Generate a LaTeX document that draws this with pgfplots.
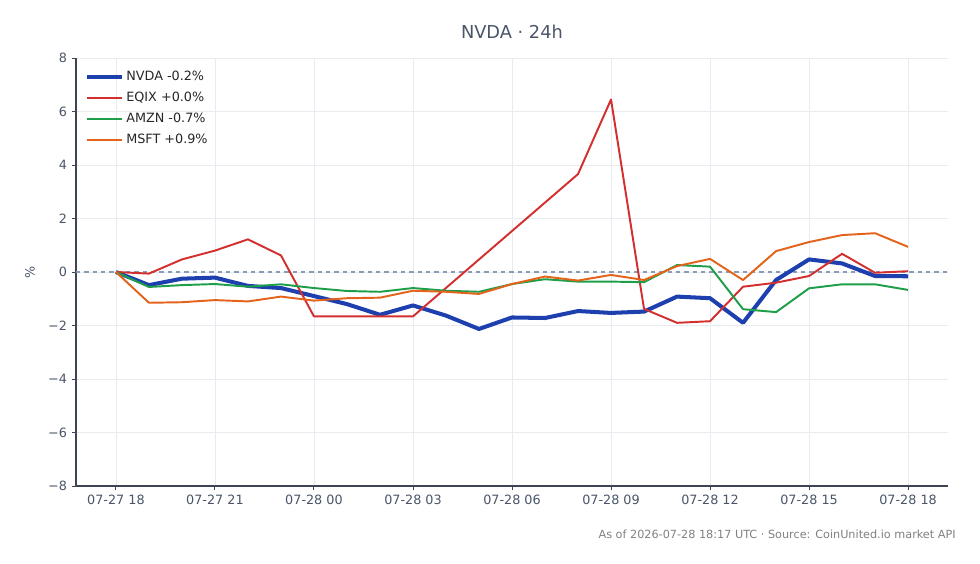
\documentclass[border=0pt]{standalone}
\usepackage{pgfplots}
\pgfplotsset{compat=1.18}
\usepackage{fontspec}
\setmainfont{DejaVu Sans}
\definecolor{cNVDA}{HTML}{1E40AF}
\definecolor{cEQIX}{HTML}{D32F2F}
\definecolor{cAMZN}{HTML}{1F9E4A}
\definecolor{cMSFT}{HTML}{E4631B}
\definecolor{txt}{HTML}{4A5568}
\definecolor{spine}{HTML}{3D4452}
\definecolor{gridc}{HTML}{E8EBF0}
\definecolor{zeroc}{HTML}{8C9BB5}
\begin{document}
\begin{tikzpicture}[x=1pt,y=1pt]
\path (0,0) rectangle (705.6,406.08);
\begin{axis}[
  at={(54.72pt,56.16pt)}, anchor=south west,
  width=627.84pt, height=308.16pt, scale only axis=true,
  xmin=-1.21, xmax=25.21, ymin=-8, ymax=8,
  axis x line*=bottom, axis y line*=left,
  axis line style={spine, line width=0.8pt},
  xtick={0,3,...,24},
  xticklabels={07-27 18,07-27 21,07-28 00,07-28 03,07-28 06,07-28 09,07-28 12,07-28 15,07-28 18},
  ytick={-8,-6,...,8},
  yticklabels={−8,−6,−4,−2,0,2,4,6,8},
  tick align=outside, major tick length=3pt,
  tick style={spine, line width=0.7pt},
  ticklabel style={font=\fontsize{9.2}{11}\selectfont, text=txt},
  /pgf/number format/assume math mode=true,
  grid=major, major grid style={gridc, line width=0.5pt},
  legend style={draw=none, fill=none, at={(0.005,0.983)}, anchor=north west,
    font=\fontsize{9.2}{11}\selectfont, text=black!85, row sep=2.8pt},
  legend cell align=left,
  legend image code/.code={\draw[#1] (0pt,0pt) -- (23pt,0pt); \path (0pt,0pt) -- (25pt,0pt);},
  clip=true,
]
\addplot[zeroc, dashed, line width=0.8pt, forget plot] coordinates {(-1.21,0) (25.21,0)};
\addplot[cNVDA, line width=2.9pt, line join=round] coordinates {
(0,0) (1,-0.49) (2,-0.25) (3,-0.21) (4,-0.52) (5,-0.6) (6,-0.9) (7,-1.2) (8,-1.6)
(9,-1.25) (10,-1.63) (11,-2.13) (12,-1.7) (13,-1.72) (14,-1.46) (15,-1.53) (16,-1.48)
(17,-0.92) (18,-0.98) (19,-1.9) (20,-0.3) (21,0.47) (22,0.32) (23,-0.15) (24,-0.16)};
\addlegendentry{NVDA -0.2\%}
\addplot[cEQIX, line width=1.4pt, line join=round] coordinates {
(0,0) (1,-0.06) (2,0.47) (3,0.8) (4,1.22) (5,0.62) (6,-1.66) (7,-1.66) (8,-1.66)
(9,-1.66) (14,3.66) (15,6.45) (16,-1.38) (17,-1.9) (18,-1.84) (19,-0.55) (20,-0.4)
(21,-0.15) (22,0.68) (23,-0.03) (24,0.03)};
\addlegendentry{EQIX +0.0\%}
\addplot[cAMZN, line width=1.4pt, line join=round] coordinates {
(0,0) (1,-0.56) (2,-0.49) (3,-0.45) (4,-0.55) (5,-0.46) (6,-0.6) (7,-0.71) (8,-0.74)
(9,-0.6) (10,-0.7) (11,-0.74) (12,-0.45) (13,-0.27) (14,-0.36) (15,-0.36) (16,-0.38)
(17,0.26) (18,0.2) (19,-1.39) (20,-1.5) (21,-0.61) (22,-0.46) (23,-0.46) (24,-0.67)};
\addlegendentry{AMZN -0.7\%}
\addplot[cMSFT, line width=1.4pt, line join=round] coordinates {
(0,0) (1,-1.15) (2,-1.13) (3,-1.05) (4,-1.1) (5,-0.92) (6,-1.07) (7,-0.98) (8,-0.96)
(9,-0.7) (10,-0.74) (11,-0.82) (12,-0.45) (13,-0.17) (14,-0.32) (15,-0.11) (16,-0.3)
(17,0.22) (18,0.49) (19,-0.3) (20,0.78) (21,1.12) (22,1.38) (23,1.45) (24,0.94)};
\addlegendentry{MSFT +0.9\%}
\end{axis}
\node[text=txt, font=\fontsize{12.8}{15}\selectfont] at (368.6,383) {NVDA · 24h};
\node[text=txt, rotate=90, font=\fontsize{9.2}{11}\selectfont] at (21.6,210.2) {\%};
\node[anchor=east, inner sep=0pt, text=black!50, font=\fontsize{8.1}{10}\selectfont] at (688.3,21.6) {As of 2026-07-28 18:17 UTC · Source: CoinUnited.io market API};
\end{tikzpicture}
\end{document}
